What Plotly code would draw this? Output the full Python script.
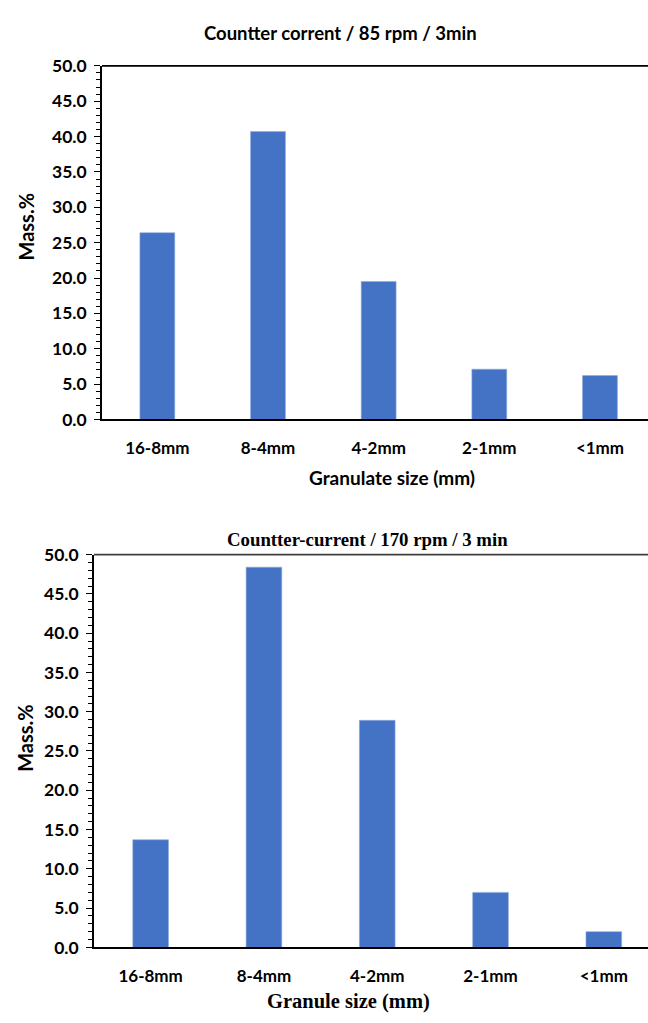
import plotly.graph_objects as go

# Granule size fractions (mm) and mass percentages for the two runs
size_classes = ["16-8mm", "8-4mm", "4-2mm", "2-1mm", "<1mm"]
mass_85rpm = [26.4, 40.7, 19.5, 7.1, 6.2]
mass_170rpm = [13.7, 48.4, 28.9, 7.0, 2.0]
y_ticks = [0, 5, 10, 15, 20, 25, 30, 35, 40, 45, 50]

BAR_BLUE = "#4472C4"
SANS = "Lato, 'Open Sans', Arial, sans-serif"
SERIF = "'Liberation Serif', 'Times New Roman', serif"

W, H = 648, 1023

fig = go.Figure()

fig.add_trace(go.Bar(
    x=size_classes, y=mass_85rpm, marker=dict(color=BAR_BLUE, line=dict(width=0.6, color="#8FAADC")),
    xaxis="x", yaxis="y", showlegend=False,
))
fig.add_trace(go.Bar(
    x=size_classes, y=mass_170rpm, marker=dict(color=BAR_BLUE, line=dict(width=0.6, color="#8FAADC")),
    xaxis="x2", yaxis="y2", showlegend=False,
))


def yaxis_style(domain, anchor):
    return dict(
        domain=domain, anchor=anchor, range=[0, 50],
        tickvals=y_ticks, ticktext=[f"{v:.1f}" for v in y_ticks],
        ticks="outside", ticklen=6, tickwidth=1.3, tickcolor="black",
        minor=dict(dtick=1, ticks="outside", ticklen=4, tickwidth=1, tickcolor="black"),
        showline=True, linecolor="black", linewidth=1.8,
        showgrid=False, zeroline=False, fixedrange=True,
        ticklabelstandoff=4,
        tickfont=dict(family=SANS, size=17.5, color="black", weight="bold"),
    )


def xaxis_style(domain, anchor, rng, standoff):
    return dict(
        domain=domain, anchor=anchor, range=rng, type="category",
        showline=True, linecolor="black", linewidth=1.8, ticks="",
        showgrid=False, zeroline=False, fixedrange=True,
        ticklabelstandoff=standoff,
        tickfont=dict(family=SANS, size=17, color="black", weight="bold"),
    )


fig.update_layout(
    width=W, height=H,
    margin=dict(l=0, r=0, t=0, b=0),
    paper_bgcolor="white", plot_bgcolor="white",
    bargap=0.685,
    xaxis=xaxis_style([102 / W, 1], "y", [-0.5, 4.434], 12),
    yaxis=yaxis_style([1 - 417 / H, 1 - 56 / H], "x"),
    xaxis2=xaxis_style([94 / W, 1], "y2", [-0.5, 4.39], 12),
    yaxis2=yaxis_style([1 - 956 / H, 1 - 555 / H], "x2"),
)

# Top border lines of each plot area
fig.add_shape(type="line", xref="paper", yref="paper",
              x0=102 / W, x1=1, y0=1 - 56 / H, y1=1 - 56 / H,
              line=dict(color="black", width=1.8))
fig.add_shape(type="line", xref="paper", yref="paper",
              x0=94 / W, x1=1, y0=1 - 555 / H, y1=1 - 555 / H,
              line=dict(color="#404040", width=1.8))

texts = [
    # (text, x_px, y_px, font, size, angle)
    ("Countter corrent / 85 rpm / 3min", 340, 22, SANS, 18.5, 0),
    ("Granulate size (mm)", 392, 476, SANS, 19, 0),
    ("Mass.%", 26, 220, SANS, 20, -90),
    ("Countter-current / 170 rpm / 3 min", 367, 540, SERIF, 18.8, 0),
    ("Granule size (mm)", 348, 1011, SERIF, 20.5, 0),
    ("Mass.%", 25, 742, SANS, 20, -90),
]
for txt, xp, yp, fam, sz, ang in texts:
    fig.add_annotation(
        text=txt, xref="paper", yref="paper", x=xp / W, y=1 - yp / H,
        xanchor="center", yanchor="middle", showarrow=False, textangle=ang,
        font=dict(family=fam, size=sz, color="black", weight="bold"),
    )

fig.write_html("out.html")
